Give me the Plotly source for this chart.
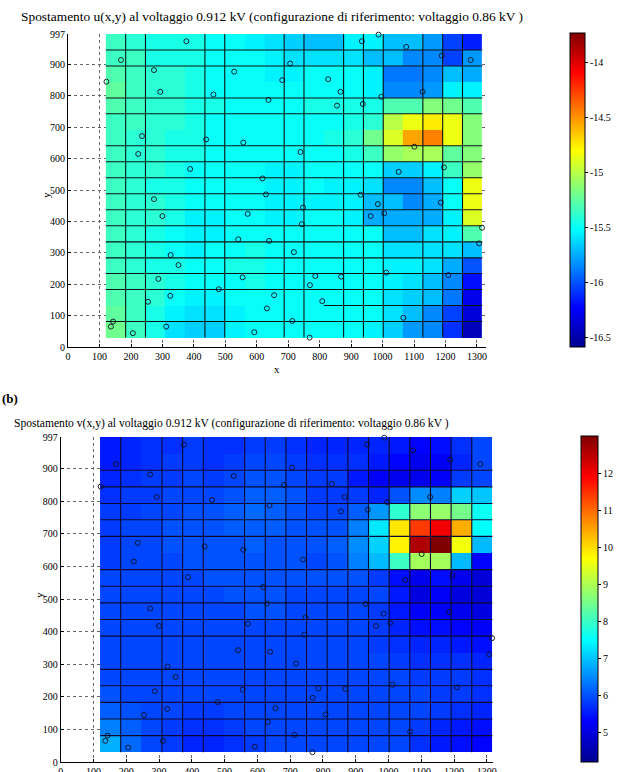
import plotly.graph_objects as go

W, H = 621, 772

# ---------------- data ----------------
x_edges = [120, 183, 246, 309, 372, 435, 498, 561, 624, 687, 750, 813, 876, 939, 1002, 1065, 1128, 1191, 1254, 1317]
y_edges = [30, 81, 132, 183, 234, 284, 335, 386, 437, 488, 539, 590, 641, 692, 743, 793, 844, 895, 946, 997]

# u(x,y) rows listed from top (y~972) to bottom (y~55)
u_rows_top_down = [
    [-15.35, -15.4, -15.45, -15.45, -15.45, -15.5, -15.5, -15.55, -15.6, -15.65, -15.7, -15.7, -15.55, -15.55, -15.7, -15.7, -15.8, -16.05, -16.15],
    [-15.35, -15.35, -15.45, -15.45, -15.45, -15.5, -15.5, -15.5, -15.55, -15.6, -15.6, -15.6, -15.6, -15.7, -15.7, -15.85, -15.85, -16.05, -15.8],
    [-15.3, -15.35, -15.4, -15.4, -15.45, -15.5, -15.5, -15.5, -15.55, -15.55, -15.5, -15.5, -15.5, -15.55, -15.9, -15.9, -15.85, -15.7, -15.75],
    [-15.25, -15.35, -15.4, -15.4, -15.45, -15.5, -15.5, -15.5, -15.5, -15.5, -15.5, -15.5, -15.5, -15.55, -15.85, -15.85, -15.8, -15.55, -15.55],
    [-15.3, -15.35, -15.4, -15.4, -15.45, -15.45, -15.5, -15.5, -15.5, -15.5, -15.45, -15.45, -15.45, -15.45, -15.3, -15.3, -15.15, -15.2, -15.3],
    [-15.35, -15.35, -15.4, -15.4, -15.45, -15.5, -15.5, -15.5, -15.5, -15.5, -15.5, -15.5, -15.45, -15.4, -15.0, -14.85, -14.75, -14.85, -15.15],
    [-15.35, -15.4, -15.4, -15.45, -15.45, -15.5, -15.5, -15.5, -15.5, -15.5, -15.5, -15.45, -15.4, -15.2, -14.9, -14.55, -14.45, -14.85, -15.15],
    [-15.35, -15.4, -15.4, -15.45, -15.45, -15.5, -15.5, -15.5, -15.5, -15.5, -15.5, -15.5, -15.45, -15.35, -15.1, -15.05, -15.05, -15.25, -15.15],
    [-15.35, -15.4, -15.4, -15.45, -15.5, -15.5, -15.5, -15.5, -15.55, -15.55, -15.5, -15.5, -15.5, -15.5, -15.65, -15.65, -15.55, -15.35, -15.1],
    [-15.35, -15.4, -15.45, -15.45, -15.5, -15.5, -15.5, -15.5, -15.55, -15.55, -15.5, -15.55, -15.55, -15.6, -15.85, -15.85, -15.7, -15.5, -14.85],
    [-15.35, -15.4, -15.4, -15.45, -15.5, -15.5, -15.5, -15.5, -15.55, -15.55, -15.55, -15.55, -15.55, -15.7, -15.7, -15.85, -15.75, -15.5, -14.85],
    [-15.35, -15.4, -15.4, -15.45, -15.55, -15.55, -15.5, -15.5, -15.55, -15.55, -15.5, -15.5, -15.55, -15.75, -15.75, -15.75, -15.75, -15.55, -14.9],
    [-15.35, -15.4, -15.45, -15.5, -15.55, -15.55, -15.5, -15.5, -15.5, -15.5, -15.5, -15.5, -15.5, -15.5, -15.7, -15.7, -15.6, -15.55, -15.3],
    [-15.35, -15.4, -15.45, -15.5, -15.55, -15.5, -15.5, -15.45, -15.5, -15.5, -15.5, -15.5, -15.5, -15.5, -15.6, -15.6, -15.6, -15.6, -15.7],
    [-15.35, -15.4, -15.45, -15.45, -15.5, -15.5, -15.45, -15.45, -15.5, -15.5, -15.5, -15.5, -15.5, -15.5, -15.55, -15.55, -15.6, -15.75, -16.0],
    [-15.3, -15.35, -15.4, -15.45, -15.5, -15.5, -15.5, -15.45, -15.5, -15.5, -15.5, -15.5, -15.5, -15.5, -15.55, -15.6, -15.7, -15.85, -16.2],
    [-15.3, -15.35, -15.4, -15.5, -15.55, -15.55, -15.5, -15.5, -15.5, -15.5, -15.5, -15.5, -15.5, -15.5, -15.6, -15.65, -15.7, -15.9, -16.3],
    [-15.25, -15.35, -15.45, -15.55, -15.6, -15.6, -15.55, -15.5, -15.5, -15.5, -15.5, -15.5, -15.5, -15.5, -15.6, -15.7, -15.85, -16.05, -16.35],
    [-15.2, -15.35, -15.45, -15.6, -15.65, -15.65, -15.55, -15.5, -15.5, -15.5, -15.5, -15.5, -15.5, -15.55, -15.65, -15.8, -15.85, -16.1, -16.45],
]

# v(x,y) rows listed from top to bottom
v_rows_top_down = [
    [5.5, 5.6, 5.7, 5.7, 5.8, 5.7, 5.7, 5.8, 5.8, 5.7, 5.6, 5.6, 5.6, 5.6, 5.5, 5.3, 5.4, 5.7, 5.9],
    [5.5, 5.6, 5.7, 5.8, 5.8, 5.7, 5.8, 5.9, 5.9, 5.8, 5.7, 5.7, 5.7, 5.5, 5.3, 5.1, 5.2, 5.6, 5.9],
    [5.6, 5.7, 5.8, 5.8, 5.9, 5.8, 5.9, 6.0, 6.0, 5.9, 5.8, 5.8, 5.5, 5.2, 5.1, 5.1, 5.2, 5.8, 5.9],
    [5.7, 5.8, 5.8, 5.9, 5.9, 5.9, 6.0, 6.1, 6.1, 6.0, 5.8, 5.8, 5.8, 5.6, 6.0, 6.5, 6.4, 7.1, 7.0],
    [5.8, 5.8, 5.9, 5.9, 6.0, 6.0, 6.1, 6.2, 6.1, 6.0, 5.9, 5.9, 6.1, 6.6, 7.9, 8.7, 8.8, 8.5, 7.6],
    [5.8, 5.9, 5.9, 6.0, 6.0, 6.0, 6.1, 6.1, 6.1, 6.0, 6.0, 6.0, 6.4, 7.3, 9.9, 11.4, 12.0, 10.4, 7.5],
    [5.8, 5.9, 5.9, 6.0, 6.0, 6.0, 6.0, 6.1, 6.0, 6.0, 6.0, 6.1, 6.5, 7.1, 9.8, 12.6, 13.0, 9.6, 6.9],
    [5.8, 5.9, 5.9, 5.9, 6.0, 6.0, 6.0, 6.0, 6.0, 6.0, 5.9, 6.0, 6.4, 6.9, 8.0, 8.9, 8.9, 6.9, 5.3],
    [5.9, 5.9, 5.9, 5.9, 5.9, 6.0, 6.0, 6.0, 6.0, 6.0, 6.0, 6.0, 6.0, 5.8, 5.4, 5.1, 5.4, 5.1, 4.9],
    [5.9, 5.9, 5.9, 5.9, 5.9, 5.9, 6.0, 6.0, 6.0, 5.9, 5.9, 5.9, 5.9, 5.9, 5.5, 5.0, 5.2, 5.0, 4.9],
    [5.9, 5.9, 5.9, 5.9, 5.9, 5.9, 5.9, 6.0, 6.0, 5.9, 5.9, 5.9, 5.9, 5.8, 5.5, 5.2, 5.2, 5.1, 5.0],
    [5.9, 5.9, 5.9, 5.9, 5.9, 5.9, 5.9, 5.9, 5.9, 5.9, 5.9, 5.9, 5.9, 5.8, 5.6, 5.4, 5.4, 5.3, 5.2],
    [5.9, 5.9, 5.9, 5.9, 5.9, 5.9, 5.9, 5.9, 5.9, 5.9, 5.9, 5.9, 5.9, 5.8, 5.7, 5.6, 5.6, 5.5, 5.4],
    [5.9, 5.9, 5.9, 5.9, 5.9, 5.9, 5.9, 5.9, 5.9, 5.9, 5.9, 5.9, 5.9, 5.9, 5.8, 5.7, 5.7, 5.7, 5.6],
    [5.9, 5.9, 5.9, 5.9, 5.9, 5.9, 5.9, 5.9, 5.9, 5.9, 5.9, 5.9, 5.9, 5.9, 5.9, 5.8, 5.8, 5.8, 5.7],
    [6.0, 5.9, 5.9, 5.9, 5.9, 5.9, 5.9, 5.9, 5.9, 5.9, 5.9, 5.9, 5.9, 5.9, 5.9, 5.9, 5.8, 5.8, 5.7],
    [6.1, 6.0, 5.9, 5.9, 5.8, 5.8, 5.9, 5.9, 5.9, 5.9, 5.9, 5.9, 5.9, 5.9, 5.9, 5.9, 5.8, 5.7, 5.6],
    [6.4, 6.1, 5.9, 5.8, 5.7, 5.7, 5.8, 5.9, 5.9, 5.9, 5.9, 5.9, 5.9, 5.9, 5.9, 5.8, 5.6, 5.5, 5.4],
    [6.8, 6.2, 5.9, 5.8, 5.6, 5.6, 5.7, 5.8, 5.9, 5.9, 5.9, 5.9, 5.9, 5.9, 5.9, 5.7, 5.5, 5.4, 5.3],
]

# measurement points (open circles)
pts_x = [376, 168, 273, 528, 706, 122, 681, 293, 462, 637, 235, 439, 557, 223, 739, 388, 618, 629,
         987, 934, 1075, 1188, 1280, 827, 866, 996, 1127, 855, 937, 1101, 1051, 1195, 930,
         273, 747, 300, 571, 743, 541, 639, 718, 326, 351, 287, 555, 786, 769, 479, 325, 655,
         254, 632, 713, 143, 136, 312, 206, 592, 768, 985, 1185, 962, 1005, 1316, 1307, 1012,
         868, 1209, 808, 1066]
pts_y = [974, 914, 882, 877, 903, 845, 850, 813, 804, 787, 672, 661, 651, 615, 621, 567, 537, 486,
         995, 974, 956, 928, 914, 853, 813, 797, 813, 769, 774, 638, 558, 572, 485,
         471, 444, 417, 424, 391, 343, 338, 302, 293, 261, 217, 222, 226, 197, 184, 163, 165,
         144, 123, 83, 81, 65, 65, 44, 47, 30, 455, 460, 417, 426, 380, 330, 237,
         224, 229, 146, 93]

# mesh line indices (into the edge lists)
top_vlines = [1, 2, 5, 6, 9, 10, 12, 13, 14, 16, 17, 18]
top_hlines = [(1, 0, 19), (2, 11, 19), (3, 0, 19), (4, 0, 19), (5, 0, 19), (6, 0, 19), (7, 0, 19),
              (8, 0, 19), (9, 0, 19), (10, 0, 19), (11, 0, 19), (12, 0, 19), (14, 0, 19),
              (15, 0, 19), (17, 0, 19), (18, 0, 19)]
bot_vlines = [1, 3, 4, 5, 7, 8, 9, 10, 11, 12, 13, 14, 15, 16, 17, 18]
bot_hlines = [(1, 0, 19), (2, 0, 19), (3, 0, 19), (4, 0, 19), (5, 0, 19), (7, 0, 19), (8, 0, 19),
              (9, 0, 19), (10, 0, 19), (11, 0, 19), (13, 0, 19), (14, 0, 19), (15, 0, 19),
              (16, 0, 19), (17, 0, 19)]

x_ticks = [0, 100, 200, 300, 400, 500, 600, 700, 800, 900, 1000, 1100, 1200, 1300]
y_ticks = [0, 100, 200, 300, 400, 500, 600, 700, 800, 900, 997]
u_cbar_ticks = [-16.5, -16, -15.5, -15, -14.5, -14]
u_cbar_text = ["-16.5", "-16", "-15.5", "-15", "-14.5", "-14"]
v_cbar_ticks = [5, 6, 7, 8, 9, 10, 11, 12]

title_u = "Spostamento u(x,y) al voltaggio 0.912 kV (configurazione di riferimento: voltaggio 0.86 kV )"
title_v = "Spostamento v(x,y) al voltaggio 0.912 kV (configurazione di riferimento: voltaggio 0.86 kV )"

# ---------------- styling ----------------
FONT = "Liberation Serif, Times New Roman, serif"
jet = [[0.0, "#00008F"], [0.125, "#0000FF"], [0.375, "#00FFFF"],
       [0.625, "#FFFF00"], [0.875, "#FF0000"], [1.0, "#800000"]]


def px_x(p):
    return p / W


def px_y(p):
    return (H - p) / H


def mesh(vl, hl):
    xs, ys = [], []
    for k in vl:
        xs += [x_edges[k], x_edges[k], None]
        ys += [y_edges[0], y_edges[-1], None]
    for k, a, b in hl:
        xs += [x_edges[a], x_edges[b], None]
        ys += [y_edges[k], y_edges[k], None]
    return xs, ys


def cbar(x0, thick, y0, y1, vals, text=None):
    d = dict(x=px_x(x0), xanchor="left", xpad=0, ypad=0, thickness=thick,
             thicknessmode="pixels", len=(y1 - y0) / H, lenmode="fraction",
             y=px_y((y0 + y1) / 2), yanchor="middle",
             outlinewidth=1, outlinecolor="black", tickmode="array",
             tickvals=vals, ticks="outside", ticklen=3, tickcolor="black",
             tickfont=dict(family=FONT, size=10, color="black"))
    if text is not None:
        d["ticktext"] = text
    return d


fig = go.Figure()

# top heatmap
fig.add_trace(go.Heatmap(
    x=x_edges, y=y_edges, z=u_rows_top_down[::-1], colorscale=jet,
    zmin=-16.59, zmax=-13.73, zsmooth=False, xaxis="x", yaxis="y",
    colorbar=cbar(570, 15, 33, 347, u_cbar_ticks, u_cbar_text),
))
mx, my = mesh(top_vlines, top_hlines)
fig.add_trace(go.Scatter(x=mx, y=my, mode="lines", line=dict(color="#0a1414", width=1.1),
                         xaxis="x", yaxis="y", hoverinfo="skip", showlegend=False))
fig.add_trace(go.Scatter(x=pts_x, y=pts_y, mode="markers", xaxis="x", yaxis="y",
                         marker=dict(symbol="circle-open", size=5, color="#101020",
                                     line=dict(width=0.9)),
                         cliponaxis=False, showlegend=False))

# bottom heatmap
fig.add_trace(go.Heatmap(
    x=x_edges, y=y_edges, z=v_rows_top_down[::-1], colorscale=jet,
    zmin=4.19, zmax=13.0, zsmooth=False, xaxis="x2", yaxis="y2",
    colorbar=cbar(581, 17, 436, 762, v_cbar_ticks),
))
mx2, my2 = mesh(bot_vlines, bot_hlines)
fig.add_trace(go.Scatter(x=mx2, y=my2, mode="lines", line=dict(color="#0a0a30", width=1.1),
                         xaxis="x2", yaxis="y2", hoverinfo="skip", showlegend=False))
fig.add_trace(go.Scatter(x=pts_x, y=pts_y, mode="markers", xaxis="x2", yaxis="y2",
                         marker=dict(symbol="circle-open", size=5, color="#101020",
                                     line=dict(width=0.9)),
                         cliponaxis=False, showlegend=False))

axis_common = dict(
    showline=True, linecolor="black", linewidth=1, mirror=False,
    ticks="inside", ticklen=3, tickcolor="black",
    showgrid=True, gridcolor="#666666", gridwidth=1, griddash="dot",
    zeroline=False, tickfont=dict(family=FONT, size=10, color="black"),
    fixedrange=True,
)

fig.update_layout(
    width=W, height=H, margin=dict(l=0, r=0, t=0, b=0, autoexpand=False),
    paper_bgcolor="white", plot_bgcolor="white", showlegend=False,
    xaxis=dict(domain=[px_x(68.1), px_x(486.4)], range=[0, 1330], anchor="y",
               tickmode="array", tickvals=x_ticks, **axis_common),
    yaxis=dict(domain=[px_y(347), px_y(34)], range=[0, 997], anchor="x",
               tickmode="array", tickvals=y_ticks, **axis_common),
    xaxis2=dict(domain=[px_x(60.7), px_x(493.4)], range=[0, 1320], anchor="y2",
                tickmode="array", tickvals=x_ticks, **axis_common),
    yaxis2=dict(domain=[px_y(762), px_y(437)], range=[0, 997], anchor="x2",
                tickmode="array", tickvals=y_ticks, **axis_common),
    annotations=[
        dict(text=title_u, x=px_x(272), y=px_y(17), xref="paper", yref="paper",
             showarrow=False, font=dict(family=FONT, size=13.4, color="black"),
             xanchor="center", yanchor="middle"),
        dict(text="x", x=px_x(277), y=px_y(369), xref="paper", yref="paper",
             showarrow=False, font=dict(family=FONT, size=11, color="black")),
        dict(text="y", x=px_x(38), y=px_y(190), xref="paper", yref="paper", textangle=-90,
             showarrow=False, font=dict(family=FONT, size=11, color="black")),
        dict(text="<b>(b)</b>", x=px_x(0), y=px_y(398), xref="paper", yref="paper",
             xanchor="left", showarrow=False, font=dict(family=FONT, size=13, color="black")),
        dict(text=title_v, x=px_x(231), y=px_y(424), xref="paper", yref="paper",
             showarrow=False, font=dict(family=FONT, size=11.6, color="black"),
             xanchor="center", yanchor="middle"),
        dict(text="y", x=px_x(31), y=px_y(600), xref="paper", yref="paper", textangle=-90,
             showarrow=False, font=dict(family=FONT, size=11, color="black")),
    ],
)

fig.write_html(
    "out.html",
    config={"displayModeBar": False},
    post_script="document.body.style.margin='0';document.body.style.overflow='hidden';",
)
